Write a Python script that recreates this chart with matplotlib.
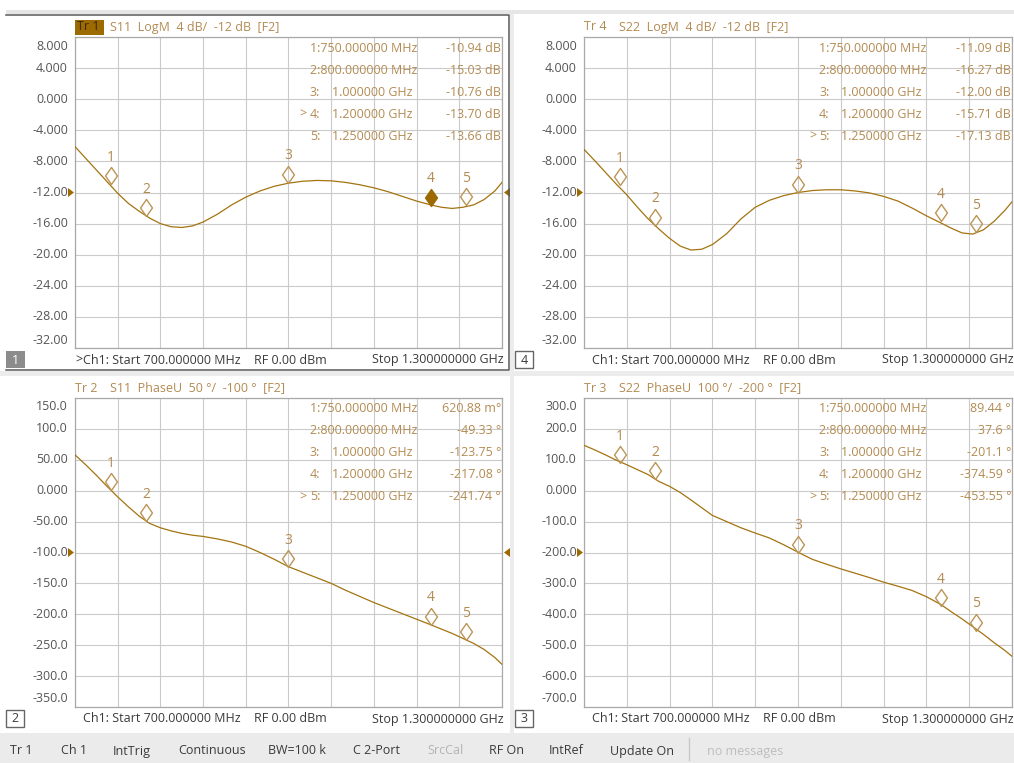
import numpy as np
import matplotlib
matplotlib.use('Agg')
import matplotlib.pyplot as plt
from matplotlib.path import Path
from matplotlib.patches import Rectangle, Polygon

plt.rcParams['font.family'] = ['Open Sans', 'DejaVu Sans']

W, H = 1014, 763

# sweep points (MHz) shared by all four traces
freq = [700, 715, 730, 745, 760, 775, 790, 805, 820, 835,
        850, 865, 880, 900, 920, 940, 960, 980, 1000, 1020,
        1040, 1060, 1080, 1100, 1120, 1140, 1160, 1180, 1200, 1215,
        1230, 1245, 1260, 1275, 1290, 1300]

s11_logm = [-6.1, -7.6, -9.1, -10.6, -12.1, -13.4, -14.4, -15.3, -16.0, -16.4,
            -16.5, -16.3, -15.8, -14.8, -13.6, -12.6, -11.8, -11.2, -10.8, -10.55,
            -10.45, -10.5, -10.7, -11.0, -11.4, -11.9, -12.5, -13.1, -13.6, -13.9,
            -14.05, -13.9, -13.6, -12.9, -11.8, -10.7]

s22_logm = [-6.45, -7.9, -9.4, -10.9, -12.3, -13.9, -15.4, -16.7, -17.9, -18.9,
            -19.4, -19.3, -18.7, -17.3, -15.4, -13.9, -13.0, -12.4, -12.0, -11.75,
            -11.65, -11.65, -11.8, -12.05, -12.5, -13.1, -14.0, -15.0, -15.9, -16.6,
            -17.2, -17.35, -16.8, -15.7, -14.3, -13.2]

s11_phase = [58, 42, 25, 7, -10, -26, -41, -53, -60, -65,
             -69, -72, -74, -78, -83, -90, -100, -111, -123, -132,
             -141, -150, -161, -171, -181, -190, -199, -208, -217, -224,
             -231, -239, -247, -257, -270, -281]

s22_phase = [147, 132, 116, 99, 84, 68, 52, 30, 14, -6,
             -30, -55, -80, -100, -120, -137, -153, -175, -199, -222,
             -238, -253, -267, -281, -296, -309, -323, -343, -368, -392,
             -415, -440, -465, -492, -517, -536]

# marker readouts
marker_freq = [750, 800, 1000, 1200, 1250]
s11_logm_mk = [-10.94, -15.03, -10.76, -13.70, -13.66]
s22_logm_mk = [-11.09, -16.27, -12.00, -15.71, -17.13]
s11_phase_mk = [0.62088, -49.33, -123.75, -217.08, -241.74]
s22_phase_mk = [89.44, 37.6, -201.1, -374.59, -453.55]

TRACE = '#a37410'
MARK = '#bc9556'
MARK_ON = '#9c6a00'
TAN = '#b38b52'
GRID = '#cacaca'
LABEL = '#555555'
DARK = '#3a3a3a'

panels = [
    dict(tr='Tr 1', head='S11  LogM  4 dB/  -12 dB  [F2]', per_div=4, ref=-12, unit='dB',
         data=s11_logm, mk=s11_logm_mk, rect=(75, 37, 502, 348), box='1',
         active=3, filled=True, current=True),
    dict(tr='Tr 4', head='S22  LogM  4 dB/  -12 dB  [F2]', per_div=4, ref=-12, unit='dB',
         data=s22_logm, mk=s22_logm_mk, rect=(584, 37, 1012, 348), box='4',
         active=4, filled=False, current=False),
    dict(tr='Tr 2', head='S11  PhaseU  50 °/  -100 °  [F2]', per_div=50, ref=-100, unit='°',
         data=s11_phase, mk=s11_phase_mk, rect=(75, 398, 502, 707), box='2',
         active=4, filled=False, current=False),
    dict(tr='Tr 3', head='S22  PhaseU  100 °/  -200 °  [F2]', per_div=100, ref=-200, unit='°',
         data=s22_phase, mk=s22_phase_mk, rect=(584, 398, 1012, 707), box='3',
         active=4, filled=False, current=False),
]

status_items = [('Tr 1', 10, DARK), ('Ch 1', 61, DARK), ('IntTrig', 113, DARK),
                ('Continuous', 178, DARK), ('BW=100 k', 268, DARK), ('C 2-Port', 353, DARK),
                ('SrcCal', 427, '#b4b4b4'), ('RF On', 489, DARK), ('IntRef', 549, DARK),
                ('Update On', 610, DARK), ('no messages', 707, '#bdbdbd')]


def frac(x0, y0, x1, y1):
    return [x0 / W, 1 - y1 / H, (x1 - x0) / W, (y1 - y0) / H]


def tick_text(v):
    if v == 0:
        return '0.000'
    digits = len(str(int(abs(v))))
    return f'{v:.{max(0, 4 - digits)}f}'


def value_text(v, unit):
    if unit == 'dB':
        return f'{v:.2f} dB'
    if abs(v) < 1:
        return f'{v * 1000:.2f} m°'
    s = f'{v:.2f}'.rstrip('0').rstrip('.')
    return f'{s} °'


# diamond whose lower tip sits on the marker position
diamond = Path([(0, 0), (0.7, 1), (0, 2), (-0.7, 1), (0, 0)],
               [Path.MOVETO, Path.LINETO, Path.LINETO, Path.LINETO, Path.CLOSEPOLY])

fig = plt.figure(figsize=(W / 100, H / 100), dpi=100)

bg = fig.add_axes([0, 0, 1, 1], zorder=0)
bg.set_xlim(0, W)
bg.set_ylim(H, 0)
bg.axis('off')
# window chrome
bg.add_patch(Rectangle((6, 10), W - 6, 4, color='#e6e6e6', lw=0))
bg.add_patch(Rectangle((510, 14), 4, 719, color='#ececec', lw=0))
bg.add_patch(Rectangle((0, 371), W, 5, color='#ececec', lw=0))
bg.add_patch(Rectangle((0, 733), W, 30, color='#ebebeb', lw=0))

fg = fig.add_axes([0, 0, 1, 1], zorder=3)
fg.set_xlim(0, W)
fg.set_ylim(H, 0)
fg.axis('off')
fg.patch.set_alpha(0)

# active window outline
fg.plot([6, 509, 509, 6], [15, 15, 370, 370], color='#5a5a5a', lw=1.1)

for t, x, c in status_items:
    fg.text(x, 751, t, color=c, fontsize=9, va='center', ha='left')
fg.plot([689, 689], [738, 760], color='#c8c8c8', lw=1)

for p in panels:
    x0, y0, x1, y1 = p['rect']
    top = p['ref'] + 5 * p['per_div']
    bot = p['ref'] - 5 * p['per_div']
    ax = fig.add_axes(frac(x0, y0, x1, y1), zorder=1)
    ax.set_xlim(700, 1300)
    ax.set_ylim(bot, top)
    ax.set_xticks(np.linspace(700, 1300, 11))
    ax.set_yticks(np.linspace(bot, top, 11))
    ax.grid(True, color=GRID, lw=0.8)
    ax.tick_params(length=0, labelleft=False, labelbottom=False)
    for s in ax.spines.values():
        s.set_color('#a9a9a9')
        s.set_linewidth(0.9)

    ax.plot(freq, p['data'], color=TRACE, lw=0.9, zorder=3)

    for i, (f, v) in enumerate(zip(marker_freq, p['mk'])):
        on = p['filled'] and i == p['active']
        ax.plot(f, v, marker=diamond, ms=24.5, mew=1.0,
                mec=MARK_ON if on else MARK, mfc=MARK_ON if on else 'none',
                clip_on=False, zorder=4)
        ax.annotate(str(i + 1), (f, v), xytext=(0, 27), textcoords='offset pixels',
                    ha='center', va='center', color=TAN, fontsize=10, zorder=4)

    # y scale labels
    ys = np.linspace(y0, y1, 11)
    vals = np.linspace(top, bot, 11)
    for k, (yy, v) in enumerate(zip(ys, vals)):
        if k == 0:
            yy += 9
        elif k == 10:
            yy -= 8
        fg.text(x0 - 7, yy, tick_text(v), ha='right', va='center', color=LABEL, fontsize=9)

    # reference position arrows
    yref = y0 + 5 * (y1 - y0) / 10
    fg.add_patch(Polygon([(x0 - 7, yref - 4.5), (x0 - 1, yref), (x0 - 7, yref + 4.5)],
                         closed=True, color=MARK_ON, lw=0))
    fg.add_patch(Polygon([(x1 + 8, yref - 4.5), (x1 + 2, yref), (x1 + 8, yref + 4.5)],
                         closed=True, color=MARK_ON, lw=0))

    # trace header
    hy = y0 - 10
    if p['current']:
        fg.add_patch(Rectangle((x0, hy - 7), 29, 15, color=MARK_ON, lw=0))
        fg.text(x0 + 2, hy, p['tr'], color='#3c2a05', fontsize=9, va='center')
    else:
        fg.text(x0, hy, p['tr'], color=TAN, fontsize=9, va='center')
    fg.text(x0 + 35, hy, p['head'], color=TAN, fontsize=9, va='center')

    # marker table
    for i, (f, v) in enumerate(zip(marker_freq, p['mk'])):
        ry = y0 + 11 + 22 * i
        if f < 1000:
            fg.text(x0 + 235, ry, f'{i + 1}:{f:.6f} MHz', color=TAN, fontsize=9, va='center')
        else:
            fg.text(x0 + 235, ry, f'{i + 1}:', color=TAN, fontsize=9, va='center')
            fg.text(x0 + 257, ry, f'{f / 1000:.6f} GHz', color=TAN, fontsize=9, va='center')
        if i == p['active']:
            fg.text(x0 + 232, ry, '>', color=TAN, fontsize=9, va='center', ha='right')
        fg.text(x1 - 1, ry, value_text(v, p['unit']), color=TAN, fontsize=9,
                va='center', ha='right')

    # channel footer
    fy = y1 + 12
    if p['current']:
        fg.add_patch(Rectangle((6, fy - 9), 19, 17, color='#8c8c8c', lw=0))
        fg.text(15.5, fy, p['box'], color='white', fontsize=9, ha='center', va='center')
        fg.text(x0, fy, '>', color=DARK, fontsize=9, va='center')
    else:
        bx = x0 - 69
        fg.add_patch(Rectangle((bx, fy - 9), 18, 17, facecolor='white', edgecolor='#666666', lw=1))
        fg.text(bx + 9, fy, p['box'], color=DARK, fontsize=9, ha='center', va='center')
    fg.text(x0 + 8, fy, 'Ch1: Start 700.000000 MHz', color=DARK, fontsize=9, va='center')
    fg.text(x0 + 179, fy, 'RF 0.00 dBm', color=DARK, fontsize=9, va='center')
    fg.text(x1 + 2, fy, 'Stop 1.300000000 GHz', color=DARK, fontsize=9, va='center', ha='right')

fig.savefig('out.png', dpi=100)
